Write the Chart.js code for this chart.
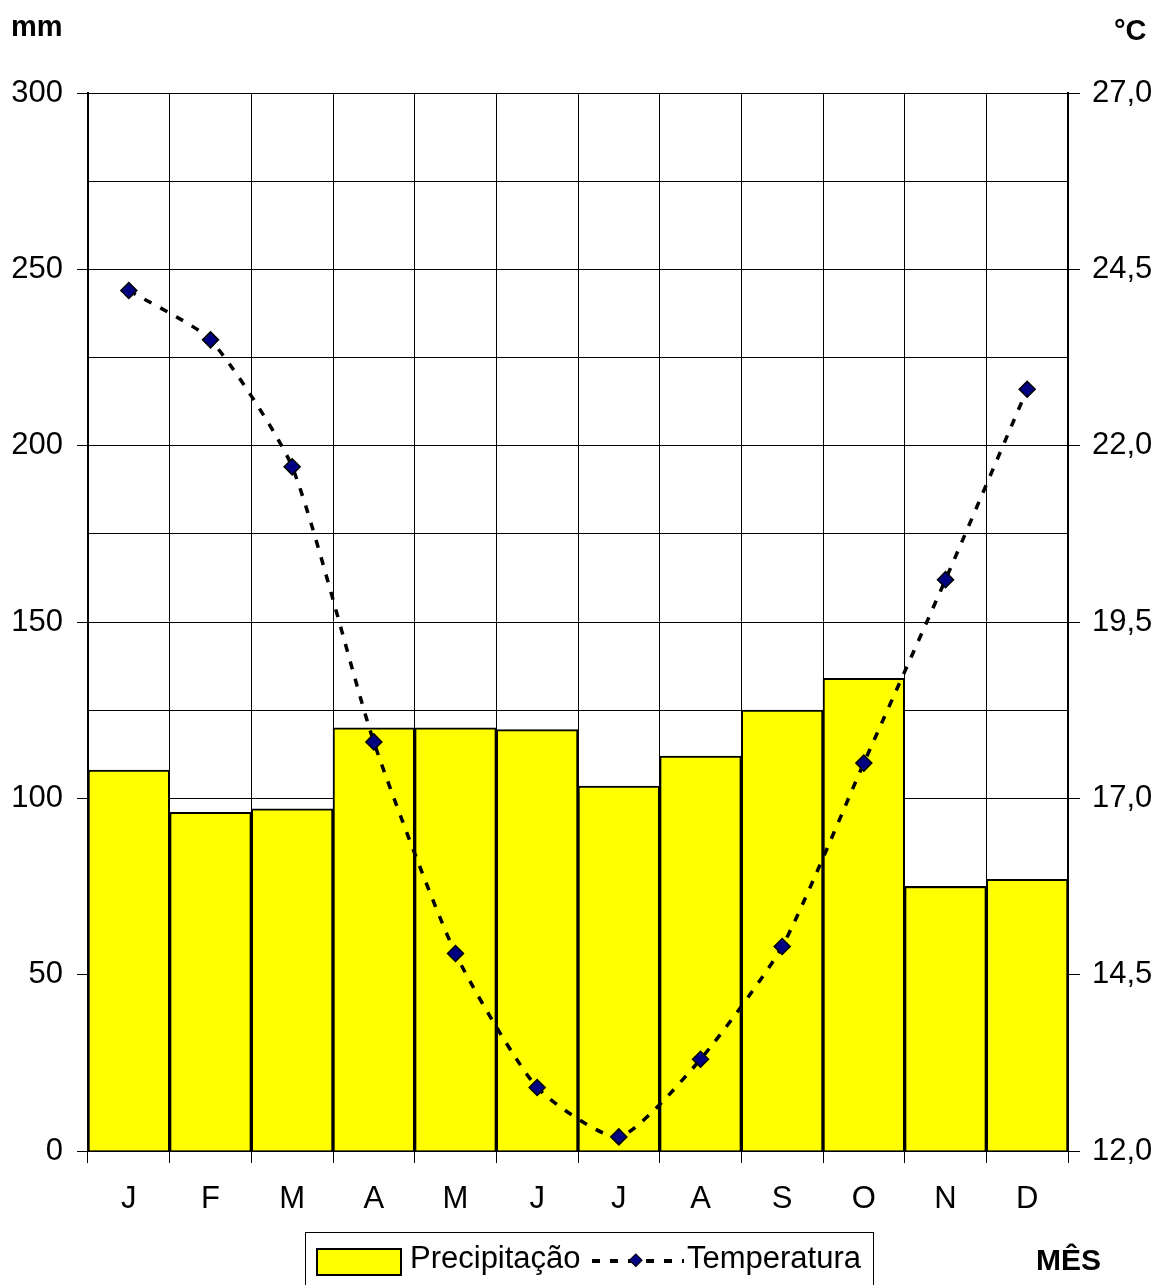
<!DOCTYPE html>
<html>
<head>
<meta charset="utf-8">
<script src="https://cdn.jsdelivr.net/npm/chart.js@4/dist/chart.umd.min.js"></script>
<style>
  body { margin: 0; background: #fff; }
  #wrap { position: relative; width: 1158px; height: 1285px; font-family: "Liberation Sans", Arial, sans-serif; }
  .lbl { position: absolute; font-weight: bold; color: #000; }
  #legend { position: absolute; left: 305px; top: 1232px; width: 567px; height: 60px; border: 1px solid #000; background: #fff; }
  #legend span { position: absolute; top: 7px; font-size: 31px; }
</style>
</head>
<body>
<div id="wrap">
  <canvas id="climate"></canvas>
  <div class="lbl" style="left:11px;top:10px;font-size:29px;">mm</div>
  <div class="lbl" style="left:1114px;top:14px;font-size:29px;">°C</div>
  <div class="lbl" style="left:1036px;top:1243px;font-size:30px;">MÊS</div>
  <div id="legend">
    <div style="position:absolute;left:10px;top:15px;width:82px;height:24px;background:#ffff00;border:2px solid #000;"></div>
    <span style="left:104px;">Precipitação</span>
    <svg style="position:absolute;left:284px;top:14px;" width="96" height="28">
      <line x1="2" y1="14" x2="94" y2="14" stroke="#000" stroke-width="4" stroke-dasharray="8,10"/>
      <rect x="42" y="8" width="9" height="9" fill="#000080" stroke="#000" stroke-width="1" transform="rotate(45 46.5 12.5) translate(0 1)"/>
    </svg>
    <span style="left:381px;">Temperatura</span>
  </div>
</div>
<script>
const months = ['J', 'F', 'M', 'A', 'M', 'J', 'J', 'A', 'S', 'O', 'N', 'D'];
const precipitation = [108, 96, 97, 120, 120, 119.5, 103.5, 112, 125, 134, 75, 77];
const temperature = [24.2, 23.5, 21.7, 17.8, 14.8, 12.9, 12.2, 13.3, 14.9, 17.5, 20.1, 22.8];

const font = { family: '"Liberation Sans", Arial, sans-serif', size: 31 };

const chart = new Chart(document.querySelector('#climate'), {
  data: {
    labels: months,
    datasets: [{
      type: 'line',
      label: 'Temperatura',
      data: temperature,
      yAxisID: 'y1',
      borderColor: '#000',
      borderWidth: 3.5,
      borderDash: [8, 10],
      tension: 0.2,
      pointStyle: 'rectRot',
      pointRadius: 8,
      pointBackgroundColor: '#000080',
      pointBorderColor: '#000',
      pointBorderWidth: 1.5,
      order: 0
    }, {
      type: 'bar',
      label: 'Precipitação',
      data: precipitation,
      yAxisID: 'y',
      backgroundColor: '#ffff00',
      borderColor: '#000',
      borderWidth: 2,
      barPercentage: 1,
      categoryPercentage: 1,
      order: 1
    }]
  },
  options: {
    responsive: true,
    maintainAspectRatio: false,
    animation: false,
    layout: { padding: { top: 93, left: 0, right: 0, bottom: 0 } },
    plugins: { legend: { display: false }, tooltip: { enabled: false } },
    scales: {
      x: {
        offset: true,
        grid: { offset: true, color: '#000', lineWidth: 1, tickLength: 12 },
        border: { color: '#000', width: 2 },
        ticks: { color: '#000', font: font, padding: 18, maxRotation: 0 },
        afterFit: s => { s.height = 134; }
      },
      y: {
        position: 'left',
        min: 0,
        max: 300,
        grid: {
          color: '#000',
          lineWidth: 1,
          tickLength: 11,
          tickColor: c => (c.tick && c.tick.value % 50 === 0) ? '#000' : 'rgba(0,0,0,0)'
        },
        border: { color: '#000', width: 2 },
        ticks: {
          stepSize: 25,
          color: '#000',
          font: font,
          padding: 14,
          callback: v => v % 50 === 0 ? v : ''
        },
        afterFit: s => { s.width = 88; }
      },
      y1: {
        position: 'right',
        min: 12,
        max: 27,
        grid: {
          drawOnChartArea: false,
          tickLength: 12,
          tickColor: c => (c.tick && Math.round((c.tick.value - 12) / 1.25) % 2 === 0) ? '#000' : 'rgba(0,0,0,0)'
        },
        border: { color: '#000', width: 2 },
        ticks: {
          stepSize: 1.25,
          color: '#000',
          font: font,
          padding: 12,
          callback: v => Math.round((v - 12) / 1.25) % 2 === 0 ? v.toFixed(1).replace('.', ',') : ''
        },
        afterFit: s => { s.width = 90; }
      }
    }
  }
});
</script>
</body>
</html>
